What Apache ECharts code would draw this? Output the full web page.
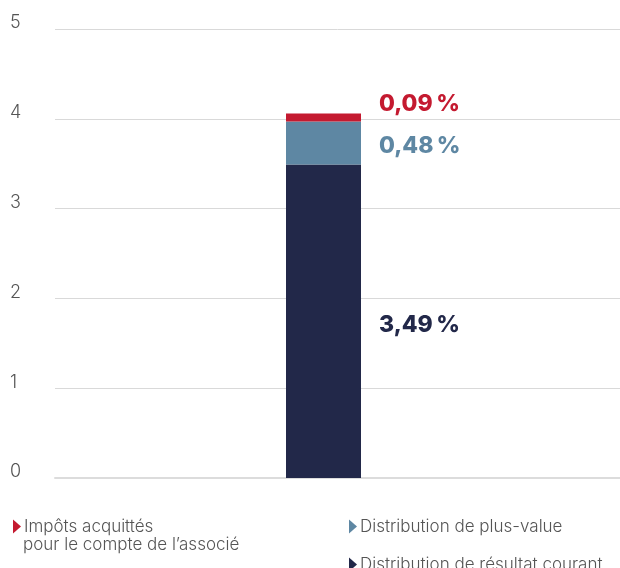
<!DOCTYPE html>
<html>
<head>
<meta charset="utf-8">
<script src="https://cdn.jsdelivr.net/npm/echarts@6/dist/echarts.min.js"></script>
<style>
  html, body { margin: 0; padding: 0; background: #fff; }
  #chart { width: 620px; height: 568px; }
</style>
</head>
<body>
<div id="chart"></div>
<script>
// donnees du graphique
var categories = ['Total'];
var seriesNames = ['Distribution de résultat courant', 'Distribution de plus-value', 'Impôts acquittés pour le compte de l\u2019associé'];
var resultatCourant = [3.49];
var plusValue = [0.48];
var impots = [0.09];
var yTicks = [0, 1, 2, 3, 4, 5];

var navy = '#222849';
var steel = '#5e87a3';
var red = '#c41a30';

var triangle = 'path://M0,0 L8,7 L0,14 Z';

function pct(v) {
    return v.toFixed(2).replace('.', ',') + '\u2009%';
}

var myChart = echarts.init(document.getElementById('chart'));

var legendText = { color: '#555', fontSize: 17, fontWeight: 300, padding: [0, 0, 0, -2] };

var option = {
    animation: false,
    textStyle: { fontFamily: 'Inter' },
    grid: [
        { left: 55, right: 0, top: 29, bottom: 90 },
        { left: 55, right: 28, top: 29, bottom: 90 }
    ],
    xAxis: [{
        gridIndex: 0,
        type: 'category',
        data: categories,
        axisLine: { show: true, lineStyle: { color: '#dcdcdc', width: 2 } },
        axisTick: { show: false },
        axisLabel: { show: false }
    }, {
        gridIndex: 1,
        type: 'category',
        data: categories,
        axisLine: { show: false },
        axisTick: { show: false },
        axisLabel: { show: false }
    }],
    yAxis: [{
        gridIndex: 0,
        type: 'value',
        min: yTicks[0],
        max: yTicks[yTicks.length - 1],
        interval: 1,
        axisLine: { show: false },
        axisTick: { show: false },
        splitLine: { lineStyle: { color: '#d9d9d9', width: 1 } },
        axisLabel: {
            align: 'left',
            margin: 45,
            verticalAlign: 'bottom',
            lineHeight: 18,
            padding: [0, 0, -3, 0],
            color: '#555',
            fontSize: 18,
            fontWeight: 300
        }
    }, {
        gridIndex: 1,
        type: 'value',
        min: yTicks[0],
        max: yTicks[yTicks.length - 1],
        interval: 1,
        show: false
    }],
    legend: [{
        left: 8, top: 513,
        icon: triangle, itemWidth: 8, itemHeight: 14, itemGap: 5,
        data: [seriesNames[2]],
        formatter: function () { return 'Impôts acquittés'; },
        textStyle: legendText
    }, {
        left: 344, top: 513,
        icon: triangle, itemWidth: 8, itemHeight: 14,
        data: [seriesNames[1]],
        textStyle: legendText
    }, {
        left: 344, top: 551,
        icon: triangle, itemWidth: 8, itemHeight: 14,
        data: [seriesNames[0]],
        textStyle: legendText
    }],
    graphic: [{
        type: 'text',
        left: 23, top: 536,
        style: { text: 'pour le compte de l\u2019associé', fill: '#555', font: '300 17px Inter' }
    }],
    series: [{
        name: seriesNames[0],
        type: 'bar',
        stack: 'total',
        xAxisIndex: 1, yAxisIndex: 1,
        barWidth: 75,
        itemStyle: { color: navy },
        label: {
            show: true, position: 'right', distance: 18, offset: [0, 4],
            color: navy, fontSize: 23, fontWeight: 800,
            formatter: function (p) { return pct(p.value); }
        },
        data: resultatCourant
    }, {
        name: seriesNames[1],
        type: 'bar',
        stack: 'total',
        xAxisIndex: 1, yAxisIndex: 1,
        barWidth: 75,
        itemStyle: { color: steel },
        label: {
            show: true, position: 'right', distance: 18, offset: [0, 3],
            color: steel, fontSize: 23, fontWeight: 800,
            formatter: function (p) { return pct(p.value); }
        },
        data: plusValue
    }, {
        name: seriesNames[2],
        type: 'bar',
        stack: 'total',
        xAxisIndex: 1, yAxisIndex: 1,
        barWidth: 75,
        itemStyle: { color: red },
        label: {
            show: true, position: 'right', distance: 18, offset: [0, -13],
            color: red, fontSize: 23, fontWeight: 800,
            formatter: function (p) { return pct(p.value); }
        },
        data: impots
    }]
};

myChart.setOption(option);
</script>
</body>
</html>
